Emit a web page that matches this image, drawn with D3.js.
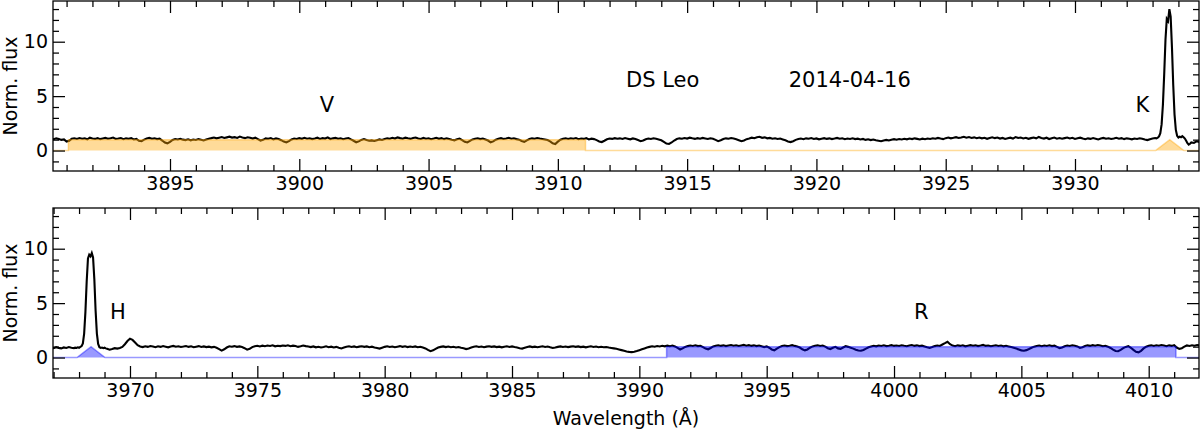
<!DOCTYPE html>
<html><head><meta charset="utf-8">
<script src="https://cdn.jsdelivr.net/npm/d3@7"></script>
<style>
body{margin:0;background:#fff}
svg{display:block}
text{font-family:"DejaVu Sans",sans-serif;fill:#000}
</style>
</head><body>
<svg id="chart" width="1200" height="429"></svg>
<script>
// ---------------- DATA ----------------
// Top panel (Ca II K region) — flux sampled every 0.1 Å from 3890.4 Å
const topStart = 3890.4, topStep = 0.1;
const topFlux = [
1.10,1.04,1.12,1.07,0.98,1.02,0.82,0.90,1.08,1.13,
1.06,1.15,1.09,1.12,1.03,1.18,1.10,1.07,1.14,1.05,
1.11,1.16,1.08,1.13,1.19,1.06,1.10,1.15,1.04,1.12,
1.09,1.14,1.02,1.07,0.90,0.86,1.00,1.10,1.16,1.08,
1.12,1.05,1.09,0.92,0.74,0.66,0.80,0.97,1.06,1.02,
1.08,1.00,0.96,1.03,0.94,1.01,0.97,1.05,0.99,0.93,
1.02,1.09,1.14,1.20,1.12,1.18,1.24,1.15,1.21,1.27,
1.19,1.23,1.16,1.28,1.20,1.14,1.22,1.17,1.10,1.18,
1.05,0.92,0.98,1.12,1.08,1.15,1.03,1.11,1.06,0.95,
0.82,0.74,0.86,1.02,1.10,1.06,1.14,1.08,1.17,1.09,
1.13,1.05,1.11,1.18,1.07,1.14,1.10,1.21,1.06,1.12,
1.16,1.08,1.13,1.04,1.10,1.15,1.02,0.90,0.76,0.84,
0.98,1.05,0.96,0.90,0.93,0.88,0.95,1.02,0.97,1.06,
1.12,1.08,1.17,1.10,1.21,1.14,1.09,1.18,1.12,1.07,
1.15,1.20,1.11,1.06,1.16,1.09,1.13,1.04,1.10,1.17,
1.08,1.14,1.05,1.12,1.07,1.00,0.94,1.03,1.10,0.96,
0.80,0.74,0.88,1.02,1.08,1.13,1.05,1.10,1.02,0.92,
0.76,0.84,1.00,1.08,1.14,1.06,1.11,1.17,1.09,1.13,
1.05,1.00,0.88,0.80,0.94,1.06,1.12,1.08,1.15,1.10,
1.06,1.02,0.96,0.84,0.66,0.60,0.82,1.00,1.09,1.12,
1.06,1.13,1.08,1.15,1.04,1.10,1.07,1.14,1.02,1.09,
1.05,0.96,0.84,0.78,0.90,1.03,1.10,1.07,1.14,1.08,
1.12,1.06,1.15,1.09,1.03,1.11,1.06,0.96,0.86,0.92,
1.04,1.10,1.06,1.13,1.08,1.02,0.94,0.80,0.64,0.60,
0.74,0.92,1.06,1.12,1.08,1.15,1.10,1.18,1.12,1.07,
1.14,1.09,1.16,1.11,1.06,1.13,1.08,0.98,0.86,0.94,
1.06,1.12,1.08,1.15,1.10,1.04,0.95,0.86,0.92,1.05,
1.11,1.18,1.13,1.22,1.26,1.17,1.21,1.12,1.16,1.09,
1.13,1.06,1.10,1.02,0.94,0.84,0.78,0.86,0.98,1.06,
1.10,1.04,1.12,1.08,1.15,1.06,1.11,1.03,1.09,1.14,
1.07,1.12,1.05,1.10,1.16,1.08,1.13,1.04,1.10,1.06,
1.12,1.05,1.09,1.02,1.07,0.98,1.04,0.96,1.01,0.94,
0.90,0.86,0.93,0.98,0.92,1.00,1.05,0.99,1.06,1.02,
1.08,1.03,1.10,1.05,1.12,1.07,1.02,1.09,1.04,1.11,
1.06,1.13,1.08,1.16,1.10,1.05,1.14,1.20,1.12,1.17,
1.23,1.15,1.20,1.26,1.18,1.24,1.16,1.21,1.13,1.19,
1.12,1.17,1.08,1.15,1.22,1.14,1.19,1.10,1.16,1.06,
1.12,1.18,1.10,1.24,1.15,1.20,1.11,1.17,1.08,1.14,
1.20,1.12,1.25,1.16,1.10,1.18,1.06,1.13,1.19,1.09,
1.15,1.08,1.14,1.20,1.11,1.17,1.07,1.13,1.18,1.10,
1.04,1.12,1.07,1.15,1.09,1.02,1.10,1.16,1.08,1.13,
1.06,1.11,1.17,1.09,1.14,1.05,1.12,1.08,1.03,1.10,
1.06,1.13,1.08,1.01,0.96,1.04,1.10,1.15
];
// K emission core and red end, [wavelength, flux]
const kCore = [
[3933.15,1.12],[3933.20,1.18],[3933.25,1.30],[3933.30,1.60],[3933.35,2.40],
[3933.40,4.20],[3933.45,7.00],[3933.50,10.2],[3933.55,12.1],[3933.60,11.9],
[3933.65,13.0],[3933.70,12.3],[3933.75,9.50],[3933.80,6.00],[3933.85,3.30],
[3933.90,1.90],[3933.95,1.35],[3934.00,1.20],[3934.05,1.28],[3934.10,1.22],
[3934.15,1.32],[3934.20,1.22],[3934.25,1.10],[3934.30,0.90],[3934.35,0.68],
[3934.40,0.55],[3934.45,0.62],[3934.50,0.75],[3934.60,0.70],[3934.70,0.85],
[3934.80,0.80],[3934.90,0.90]
];

// Bottom panel (Ca II H region)
const botHeadStart = 3966.9, botStep = 0.1;
const botHeadFlux = [0.92,0.86,0.95,0.89,0.84,0.93,0.88,0.96,0.90,0.87];
const hCore = [
[3967.85,0.91],[3967.90,0.88],[3967.95,0.94],[3968.00,0.90],[3968.05,0.97],
[3968.10,1.05],[3968.15,1.30],[3968.20,2.20],[3968.25,4.20],[3968.30,7.00],
[3968.35,9.10],[3968.40,9.45],[3968.45,9.30],[3968.50,9.60],[3968.55,9.20],
[3968.60,7.20],[3968.65,4.30],[3968.70,2.20],[3968.75,1.25],[3968.80,0.95],
[3968.85,0.88],[3968.90,0.92],[3968.95,0.86],[3969.00,0.90],[3969.05,0.84]
];
const botTailStart = 3969.1;
const botTailFlux = [
0.80,0.72,0.78,0.86,0.82,0.88,0.98,1.22,1.52,1.72,
1.62,1.38,1.14,1.02,0.96,1.04,0.98,1.06,1.01,0.95,
1.03,0.98,1.06,1.00,0.94,1.02,1.07,0.99,1.04,0.97,
1.01,1.06,0.98,1.03,0.95,1.00,1.05,0.97,1.02,0.96,
1.00,0.94,0.98,0.90,0.78,0.64,0.76,0.92,1.03,0.99,
1.05,0.98,1.02,0.96,0.86,0.72,0.80,0.96,1.04,1.08,
1.02,1.09,1.04,1.10,1.06,1.12,1.03,1.08,1.05,1.11,
1.07,1.13,1.04,1.09,1.06,0.98,1.03,1.10,1.05,1.01,
0.96,1.02,0.94,0.99,0.92,0.97,1.03,0.95,1.00,0.93,
0.98,0.90,0.84,0.92,0.99,1.04,0.97,1.02,0.95,1.00,
1.04,0.98,1.02,0.95,1.00,0.93,0.88,0.82,0.90,0.98,
1.03,0.97,1.01,0.95,1.00,1.05,0.98,1.03,0.96,1.01,
0.97,1.02,0.95,0.99,0.92,0.84,0.70,0.58,0.66,0.80,
0.92,0.98,1.02,0.96,1.01,0.95,0.99,0.93,0.97,0.90,
0.86,0.78,0.84,0.93,0.99,1.03,0.97,1.01,0.95,1.00,
1.04,0.98,1.02,0.96,1.00,0.94,0.99,1.03,0.97,1.02,
0.96,0.92,0.86,0.82,0.90,0.97,1.02,0.96,1.00,0.95,
0.99,1.03,0.97,1.01,0.94,0.88,0.92,0.98,1.02,0.97,
1.01,0.96,1.00,1.04,0.98,1.02,0.96,1.00,0.94,0.99,
1.03,0.97,1.01,0.95,0.99,0.94,0.97,0.92,0.88,0.84,
0.80,0.74,0.68,0.62,0.56,0.52,0.50,0.54,0.60,0.68,
0.76,0.84,0.92,0.98,1.04,0.99,1.06,1.02,1.08,1.03,
1.09,1.04,1.10,1.02,0.88,0.74,0.84,0.98,1.05,1.10,
1.06,1.12,1.05,1.08,0.96,0.82,0.76,0.88,1.02,1.08,
1.13,1.07,1.12,1.05,1.10,1.15,1.08,1.13,1.06,1.11,
1.16,1.09,1.14,1.07,1.12,1.05,1.10,1.03,0.96,1.02,
0.90,0.74,0.66,0.82,0.96,1.06,1.11,1.05,1.09,1.14,
1.07,1.02,0.92,0.76,0.66,0.74,0.90,1.02,1.08,1.12,
1.06,1.10,1.00,0.86,0.78,0.90,0.98,0.84,0.80,0.92,
1.04,0.98,0.90,0.82,0.72,0.64,0.62,0.70,0.82,0.94,
1.02,1.08,1.03,1.10,1.06,1.12,1.05,1.09,1.14,1.07,
1.11,1.06,1.13,1.08,1.04,1.10,1.15,1.07,1.12,1.05,
1.09,1.02,0.94,0.88,0.96,1.05,1.11,1.06,1.20,1.32,
1.45,1.22,1.10,1.04,1.12,1.07,1.13,1.03,1.09,1.14,
1.08,1.12,1.05,1.10,1.16,1.07,1.11,1.04,1.09,1.13,
1.06,1.10,1.03,1.08,1.02,0.96,0.90,0.82,0.74,0.66,
0.62,0.68,0.78,0.90,1.00,1.06,1.10,1.04,1.10,1.06,
1.12,1.05,1.09,0.98,0.86,0.92,1.04,1.10,1.06,1.13,
1.08,1.02,0.88,0.94,1.06,1.12,1.07,1.14,1.09,1.15,
1.10,1.04,1.08,1.00,0.88,0.72,0.60,0.58,0.70,0.86,
0.98,1.04,0.90,0.70,0.52,0.48,0.62,0.84,1.00,1.08,
1.12,1.06,1.13,1.08,1.15,1.10,1.04,1.12,1.07,1.14,
0.92,0.80,0.86,1.00,1.11,1.06,1.13,1.08,1.15,1.10
];

// Bandpasses (Å)
const vBand = [3891.07, 3911.07];
const rBand = [3991.07, 4011.07];
const kLine = 3933.664;
const hLine = 3968.470;
const triHalfWidth = 0.55;
const lineLabelOffset = 1.06;

// Axis ranges and ticks
const topRange = [3890.475, 3934.796];
const botRange = [3966.977, 4011.975];
const fluxRange = [-1.88, 13.74];
const yMajorTicks = [0, 5, 10];
const yMinorTicks = [-1, 1, 2, 3, 4, 6, 7, 8, 9, 11, 12, 13];

const objectName = "DS Leo";
const obsDate = "2014-04-16";
const xLabel = "Wavelength (Å)";
const yLabel = "Norm. flux";

// ---------------- BUILD SERIES ----------------
const round = v => Math.round(v * 1000) / 1000;
const topSpec = topFlux.map((f, i) => [round(topStart + i * topStep), f]).concat(kCore);
const botSpec = botHeadFlux.map((f, i) => [round(botHeadStart + i * botStep), f])
  .concat(hCore)
  .concat(botTailFlux.map((f, i) => [round(botTailStart + i * botStep), f]));

function filterCurve(range, band, line) {
  const rect = [[band[0], 0], [band[0], 1], [band[1], 1], [band[1], 0]];
  const tri = [[line - triHalfWidth, 0], [line, 1], [line + triHalfWidth, 0]];
  const parts = band[0] < line ? rect.concat(tri) : tri.concat(rect);
  return [[range[0] - 1, 0]].concat(parts, [[range[1] + 1, 0]]);
}

// ---------------- DRAW ----------------
const svg = d3.select("#chart");
const L = 53, R = 1199;
const FS = 19, AFS = 21;

const panels = [
  { top: 1, bottom: 171, range: topRange, spec: topSpec,
    filt: filterCurve(topRange, vBand, kLine),
    fill: "rgba(255,165,0,0.4)",
    labels: [{ t: "V", x: (vBand[0] + vBand[1]) / 2 }, { t: "K", x: kLine - lineLabelOffset }] },
  { top: 208, bottom: 378, range: botRange, spec: botSpec,
    filt: filterCurve(botRange, rBand, hLine),
    fill: "rgba(0,0,255,0.4)",
    labels: [{ t: "H", x: hLine + lineLabelOffset }, { t: "R", x: (rBand[0] + rBand[1]) / 2 }] }
];

panels.forEach((p, pi) => {
  const x = d3.scaleLinear().domain(p.range).range([L, R]);
  const y = d3.scaleLinear().domain(fluxRange).range([p.bottom, p.top]);
  const g = svg.append("g");
  const clipId = "clip" + pi;
  svg.append("clipPath").attr("id", clipId).append("rect")
    .attr("x", L).attr("y", p.top).attr("width", R - L).attr("height", p.bottom - p.top);

  const plot = g.append("g").attr("clip-path", `url(#${clipId})`);
  // spectrum
  plot.append("path").datum(p.spec)
    .attr("d", d3.line().x(d => x(d[0])).y(d => y(d[1])))
    .attr("fill", "none").attr("stroke", "#000").attr("stroke-width", 2.1)
    .attr("stroke-linejoin", "miter");
  // bandpass fill
  plot.append("path").datum(p.filt)
    .attr("d", d3.area().x(d => x(d[0])).y0(y(0)).y1(d => y(d[1])))
    .attr("fill", p.fill).attr("stroke", "none");
  plot.append("path").datum(p.filt)
    .attr("d", d3.line().x(d => x(d[0])).y(d => y(d[1])))
    .attr("fill", "none").attr("stroke", p.fill).attr("stroke-width", 1.5);

  // ticks
  const x0 = Math.ceil(p.range[0]), x1 = Math.floor(p.range[1]);
  const xs = d3.range(x0, x1 + 1);
  const xMajor = xs.filter(v => v % 5 === 0);
  const xMinor = xs.filter(v => v % 5 !== 0);

  function axis(gen, pos, values, size, labels) {
    const a = gen.tickValues(values).tickSize(-size).tickSizeOuter(0);
    a.tickFormat(labels ? d3.format("d") : () => "");
    const ga = g.append("g").attr("transform", pos).call(a);
    ga.select(".domain").remove();
    ga.selectAll(".tick line").attr("stroke", "#000").attr("stroke-width", 1.25);
    ga.selectAll("text").attr("font-size", FS).attr("fill", "#000")
      .attr("font-family", '"DejaVu Sans", sans-serif');
    return ga;
  }
  axis(d3.axisBottom(x).tickPadding(6), `translate(0,${p.bottom})`, xMajor, 12, true);
  axis(d3.axisBottom(x), `translate(0,${p.bottom})`, xMinor, 6, false);
  axis(d3.axisTop(x), `translate(0,${p.top})`, xMajor, 12, false);
  axis(d3.axisTop(x), `translate(0,${p.top})`, xMinor, 6, false);
  axis(d3.axisLeft(y).tickPadding(5), `translate(${L},0)`, yMajorTicks, 12, true);
  axis(d3.axisLeft(y), `translate(${L},0)`, yMinorTicks, 6, false);
  axis(d3.axisRight(y), `translate(${R},0)`, yMajorTicks, 12, false);
  axis(d3.axisRight(y), `translate(${R},0)`, yMinorTicks, 6, false);

  // frame
  g.append("rect").attr("x", L).attr("y", p.top).attr("width", R - L).attr("height", p.bottom - p.top)
    .attr("fill", "none").attr("stroke", "#000").attr("stroke-width", 1.3);

  // y label
  g.append("text")
    .attr("transform", `translate(16.5,${(p.top + p.bottom) / 2}) rotate(-90)`)
    .attr("text-anchor", "middle").attr("font-size", FS).text(yLabel);

  // line / band labels
  p.labels.forEach(lb => {
    g.append("text").attr("x", x(lb.x)).attr("y", y(4.2)).attr("dy", "0.36em")
      .attr("text-anchor", "middle").attr("font-size", AFS).text(lb.t);
  });

  if (pi === 0) {
    const w = R - L;
    g.append("text").attr("x", L + 0.5 * w).attr("y", 87).attr("font-size", AFS).text(objectName);
    g.append("text").attr("x", L + 0.642 * w).attr("y", 87).attr("font-size", AFS).text(obsDate);
  } else {
    g.append("text").attr("x", (L + R) / 2).attr("y", 425).attr("text-anchor", "middle")
      .attr("font-size", FS).text(xLabel);
  }
});
</script>
</body></html>
